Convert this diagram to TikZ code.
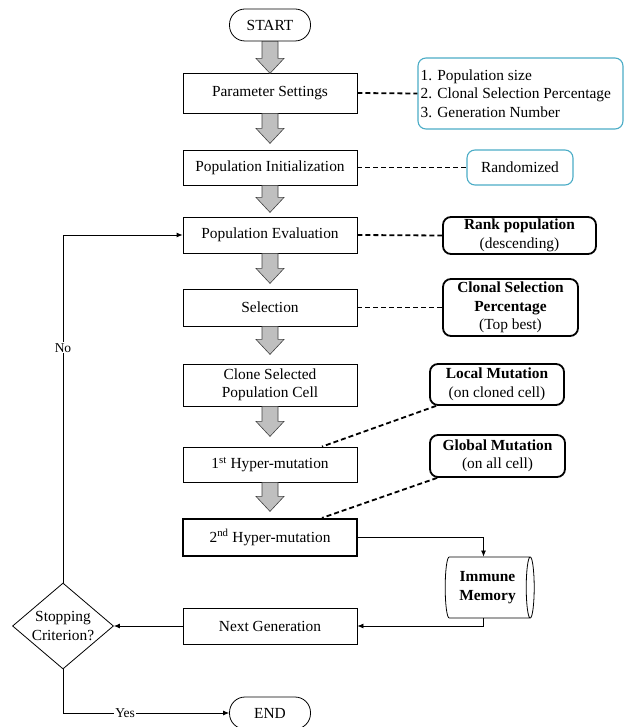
\documentclass[tikz,border=0pt]{standalone}
\usepackage{fontspec}
\setmainfont{Liberation Serif}
\newfontfamily\tnr{Liberation Serif}
\usetikzlibrary{shapes.geometric,arrows.meta,calc}
\definecolor{aqua}{HTML}{4BACC6}
\definecolor{arrgray}{HTML}{BFBFBF}
\newcommand\blockarr[2][15]{%
  \filldraw[fill=arrgray, draw=black!75, line width=0.6pt]
    ($(#2.south)+(-8,0)$) -- ++(16,0) -- ++(0,#1) -- ++(6,0) -- ++(-14,15)
    -- ++(-14,-15) -- ++(6,0) -- cycle;}
\begin{document}
\begin{tikzpicture}[x=1pt,y=-1pt,
  font=\tnr\fontsize{15.4}{18.5}\selectfont,
  proc/.style={draw, line width=0.8pt, minimum width=174, minimum height=36, inner sep=0, align=center},
  term/.style={draw, line width=0.8pt, rounded corners=15.5, minimum width=81, minimum height=32, inner sep=0},
  bluenote/.style={draw=aqua, line width=1.1pt, rounded corners=8, inner sep=0},
  boldnote/.style={draw, line width=1.8pt, rounded corners=8, inner sep=0, align=center},
  dashlink/.style={line width=1.8pt, dash pattern=on 5pt off 3pt},
  arr/.style={line width=0.8pt, -{Latex[length=6pt,width=5pt]}},
  lbl/.style={fill=white, inner sep=1pt, font=\tnr\fontsize{13.5}{15}\selectfont}
]
\useasboundingbox (0,0) rectangle (627,727);

% main column
\node[term] (start) at (270,25) {START};
\node[proc, minimum height=40] (par) at (270,93) {Parameter Settings};
\node[proc, minimum height=35] (init) at (270,167.5) {Population Initialization};
\node[proc] (eval) at (270,235) {Population Evaluation};
\node[proc, minimum height=37] (sel) at (270,307.5) {Selection};
\node[proc, minimum height=42] (clone) at (270,385) {Clone Selected\\Population Cell};
\node[proc, minimum height=35] (h1) at (270,464.5) {1\textsuperscript{st} Hyper-mutation};
\node[proc, minimum height=37, line width=2.2pt] (h2) at (270,537.5) {2\textsuperscript{nd} Hyper-mutation};
\node[proc] (next) at (270,626) {Next Generation};
\node[draw, diamond, line width=0.8pt, minimum width=101, minimum height=86, inner sep=0,
      label={[align=center, font=\tnr\fontsize{15.4}{18.5}\selectfont]center:Stopping\\Criterion?}] (stop) at (63,626) {};
\node[term] (end) at (270,713) {END};

% side notes
\node[bluenote, minimum width=205, minimum height=71] (n1) at (520.5,93.5) {};
\node[align=left, anchor=west, inner sep=0] (n1t) at ($(n1.west)+(3,0)$) {1. Population size\\2. Clonal Selection Percentage\\3. Generation Number};
\node[bluenote, minimum width=106, minimum height=35] (n2) at (520,167.5) {Randomized};
\node[boldnote, minimum width=153, minimum height=37] (n3) at (519.5,235.5) {\textbf{Rank population}\\(descending)};
\node[boldnote, minimum width=135, minimum height=57] (n4) at (510.5,307.5) {\textbf{Clonal Selection}\\\textbf{Percentage}\\(Top best)};
\node[boldnote, minimum width=134, minimum height=41] (n5) at (497,384.5) {\textbf{Local Mutation}\\(on cloned cell)};
\node[boldnote, minimum width=135, minimum height=42] (n6) at (497.5,456) {\textbf{Global Mutation}\\(on all cell)};
\node[draw, cylinder, line width=0.8pt, minimum width=61, minimum height=89, aspect=0.25, inner sep=0,
      align=center, font=\tnr\bfseries\fontsize{15.4}{18.5}\selectfont] (mem) at (487.5,587.5) {Immune\\Memory};

% block arrows
\blockarr[17]{start}
\blockarr{par}
\blockarr[12]{init}
\blockarr{eval}
\blockarr[13]{sel}
\blockarr{clone}
\blockarr[14]{h1}

% dashed links
\draw[dashlink] (par.east) -- (n1.west);
\draw[dashlink] (init.east) -- (n2.west);
\draw[dashlink] (eval.east) -- (n3.west);
\draw[dashlink] (sel.east) -- (n4.west);
\draw[dashlink] ($(n5.south west)+(7,0)$) -- ($(h1.north)+(52,0)$);
\draw[dashlink] ($(n6.south west)+(8,0)$) -- ($(h2.north)+(52,0)$);

% flow lines
\draw[arr] (h2.east) -| ($(mem.north)+(-4,0)$);
\draw[arr] ($(mem.south)+(-4,0)$) |- (next.east);
\draw[arr] (next.west) -- (stop.east);
\draw[arr] (stop.north) |- (eval.west) node[lbl, pos=0.3375] {No};
\draw[arr] (stop.south) |- (end.west) node[lbl, pos=0.687] {Yes};
\end{tikzpicture}
\end{document}
